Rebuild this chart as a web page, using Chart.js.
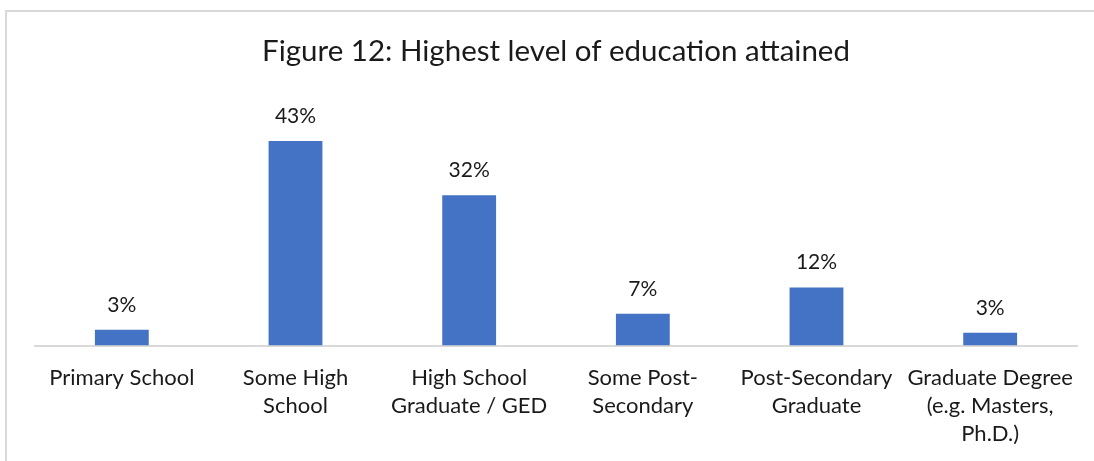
<!DOCTYPE html>
<html>
<head>
<meta charset="utf-8">
<script src="https://cdn.jsdelivr.net/npm/chart.js@4"></script>
<style>
  html, body { margin: 0; padding: 0; background: #fff; overflow: hidden; }
  #frame { position: absolute; left: 5px; top: 10px; width: 1110px; height: 470px; border: 2px solid #d9d9d9; }
  #wrap { position: absolute; left: 0; top: 0; width: 1094px; height: 467px; }
</style>
</head>
<body>
<div id="frame"></div>
<div id="wrap"><canvas id="chart"></canvas></div>
<script>
// Education levels (x axis, multi-line labels)
const categories = [
  ["Primary School"],
  ["Some High", "School"],
  ["High School", "Graduate / GED"],
  ["Some Post-", "Secondary"],
  ["Post-Secondary", "Graduate"],
  ["Graduate Degree", "(e.g. Masters,", "Ph.D.)"]
];
// Share of respondents, percent
const shares = [3.3, 43, 31.6, 6.7, 12.2, 2.7];

const textColor = "#1a1a1a";
const fontFamily = "Lato, 'Open Sans', sans-serif";

// Percent labels above each bar
const valueLabels = {
  id: "valueLabels",
  afterDatasetsDraw(chart) {
    const ctx = chart.ctx;
    const meta = chart.getDatasetMeta(0);
    ctx.save();
    ctx.font = "21px " + fontFamily;
    ctx.fillStyle = textColor;
    ctx.textAlign = "center";
    ctx.textBaseline = "alphabetic";
    meta.data.forEach((bar, i) => {
      ctx.fillText(Math.round(shares[i]) + "%", bar.x, bar.y - 18);
    });
    ctx.restore();
  }
};

const ctx = document.getElementById("chart").getContext("2d");
const chart = new Chart(ctx, {
  type: "bar",
  data: {
    labels: categories,
    datasets: [
      {
        data: shares,
        backgroundColor: "#4472C4",
        borderWidth: 0,
        categoryPercentage: 1,
        barPercentage: 0.31
      }
    ]
  },
  options: {
    responsive: true,
    maintainAspectRatio: false,
    animation: false,
    layout: { padding: { left: 35, right: 17, top: 0, bottom: 0.5 } },
    plugins: {
      legend: { display: false },
      tooltip: { enabled: false },
      title: {
        display: true,
        text: "Figure 12: Highest level of education attained",
        color: textColor,
        font: { family: fontFamily, size: 29.5, weight: "normal" },
        padding: { top: 34, bottom: 38.3 }
      }
    },
    scales: {
      x: {
        grid: { display: false, drawTicks: false },
        border: { display: true, color: "#d9d9d9", width: 2 },
        ticks: {
          color: textColor,
          font: { family: fontFamily, size: 22, lineHeight: 28 / 22 },
          maxRotation: 0,
          autoSkip: false,
          padding: 18.5
        }
      },
      y: {
        display: false,
        min: 0,
        max: 50
      }
    }
  },
  plugins: [valueLabels]
});
</script>
</body>
</html>
